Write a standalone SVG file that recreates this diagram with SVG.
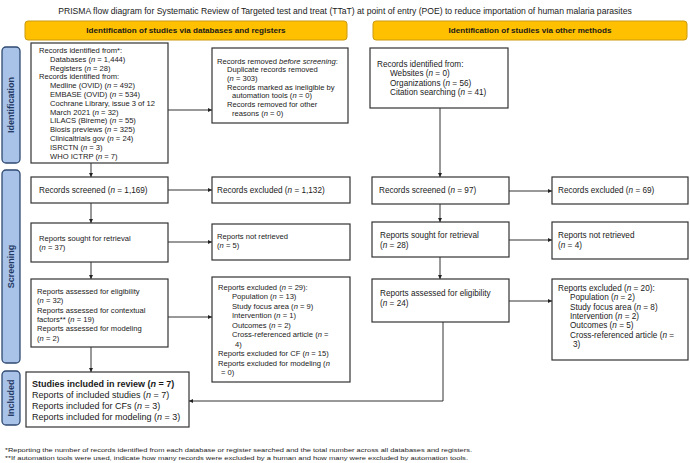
<svg xmlns="http://www.w3.org/2000/svg" width="690" height="463" viewBox="0 0 690 463">
<style>
text { font-family: "Liberation Sans", Arial, sans-serif; fill: #1a1a1a; }
.box { fill: #ffffff; stroke: #333333; stroke-width: 1.2; }
.hdr { fill: #ffc000; stroke: #c99a10; stroke-width: 1; }
.hdrt { font-size: 8.1px; font-weight: bold; text-anchor: middle; }
.side { fill: #a9c3e8; stroke: #2f4a72; stroke-width: 1.3; }
.sidet { font-size: 9px; font-weight: bold; fill: #1f3864; text-anchor: middle; }
.s { font-size: 7.6px; }
.m { font-size: 8.2px; }
.l { font-size: 9px; }
.i { font-style: italic; }
.fn { font-size: 6.2px; }
.c { stroke: #333333; stroke-width: 1; fill: none; marker-end: url(#ah); }
</style>
<defs>
<marker id="ah" viewBox="0 0 6 6" refX="6" refY="3" markerWidth="4" markerHeight="4" orient="auto" markerUnits="userSpaceOnUse">
<path d="M0,0 L6,3 L0,6 z" fill="#222222"/>
</marker>
</defs>
<rect width="690" height="463" fill="#ffffff"/>
<text id="title" x="345" y="13.5" font-size="8.6px" text-anchor="middle">PRISMA flow diagram for Systematic Review of Targeted test and treat (TTaT) at point of entry (POE) to reduce importation of human malaria parasites</text>

<g id="hdr-left"><rect class="hdr" x="25" y="21" width="322" height="19" rx="3"/><text class="hdrt" x="186" y="33.4">Identification of studies via databases and registers</text></g>
<g id="hdr-right"><rect class="hdr" x="373" y="21" width="314" height="19" rx="3"/><text class="hdrt" x="530" y="33.4">Identification of studies via other methods</text></g>

<g id="side-identification"><rect class="side" x="2" y="47" width="18" height="116" rx="4"/><text class="sidet" transform="translate(14.2,105) rotate(-90)">Identification</text></g>
<g id="side-screening"><rect class="side" x="2" y="170" width="18" height="193" rx="4"/><text class="sidet" transform="translate(14.2,266.5) rotate(-90)">Screening</text></g>
<g id="side-included"><rect class="side" x="2" y="371" width="18" height="54" rx="4"/><text class="sidet" transform="translate(14.2,398) rotate(-90)">Included</text></g>

<g id="db-identified">
<rect class="box" x="31" y="43" width="137" height="120"/>
<text class="s" x="39" y="52.8">Records identified from*:</text>
<text class="s" x="50" y="61.6">Databases (<tspan class="i">n</tspan> = 1,444)</text>
<text class="s" x="50" y="70.5">Registers (<tspan class="i">n</tspan> = 28)</text>
<text class="s" x="39" y="79.3">Records identified from:</text>
<text class="s" x="50" y="88.1">Medline (OVID) (<tspan class="i">n</tspan> = 492)</text>
<text class="s" x="50" y="97">EMBASE (OVID) (<tspan class="i">n</tspan> = 534)</text>
<text class="s" x="50" y="105.8">Cochrane Library, issue 3 of 12</text>
<text class="s" x="50" y="114.6">March 2021 (<tspan class="i">n</tspan> = 32)</text>
<text class="s" x="50" y="123.4">LILACS (Bireme) (<tspan class="i">n</tspan> = 55)</text>
<text class="s" x="50" y="132.3">Biosis previews (<tspan class="i">n</tspan> = 325)</text>
<text class="s" x="50" y="141.1">Clinicaltrials gov (<tspan class="i">n</tspan> = 24)</text>
<text class="s" x="50" y="149.9">ISRCTN (<tspan class="i">n</tspan> = 3)</text>
<text class="s" x="50" y="158.8">WHO ICTRP (<tspan class="i">n</tspan> = 7)</text>
</g>

<g id="db-removed">
<rect class="box" x="212" y="48" width="136" height="75"/>
<text class="s" x="217" y="63.5">Records removed <tspan class="i">before screening</tspan>:</text>
<text class="s" x="227" y="72.2">Duplicate records removed</text>
<text class="s" x="227" y="80.9">(<tspan class="i">n</tspan> = 303)</text>
<text class="s" x="227" y="89.6">Records marked as ineligible by</text>
<text class="s" x="232" y="98.3">automation tools (<tspan class="i">n</tspan> = 0)</text>
<text class="s" x="227" y="107">Records removed for other</text>
<text class="s" x="232" y="115.7">reasons (<tspan class="i">n</tspan> = 0)</text>
</g>

<g id="db-screened"><rect class="box" x="31" y="177" width="137" height="26"/><text class="m" x="39" y="193">Records screened (<tspan class="i">n</tspan> = 1,169)</text></g>
<g id="db-excluded"><rect class="box" x="212" y="177" width="138" height="26"/><text class="m" x="217" y="193">Records excluded (<tspan class="i">n</tspan> = 1,132)</text></g>

<g id="db-sought"><rect class="box" x="31" y="223" width="137" height="39"/>
<text class="s" x="39" y="240.5">Reports sought for retrieval</text>
<text class="s" x="39" y="250">(<tspan class="i">n</tspan> = 37)</text></g>
<g id="db-notretrieved"><rect class="box" x="212" y="224" width="138" height="36"/>
<text class="s" x="217" y="238.5">Reports not retrieved</text>
<text class="s" x="217" y="248">(<tspan class="i">n</tspan> = 5)</text></g>

<g id="db-assessed"><rect class="box" x="31" y="279" width="137" height="68"/>
<text class="s" x="37" y="293.7">Reports assessed for eligibility</text>
<text class="s" x="37" y="303.1">(<tspan class="i">n</tspan> = 32)</text>
<text class="s" x="37" y="312.5">Reports assessed for contextual</text>
<text class="s" x="37" y="321.9">factors** (<tspan class="i">n</tspan> = 19)</text>
<text class="s" x="37" y="331.3">Reports assessed for modeling</text>
<text class="s" x="37" y="340.7">(<tspan class="i">n</tspan> = 2)</text></g>

<g id="db-reportsexcluded"><rect class="box" x="212" y="277" width="138" height="105"/>
<text class="s" x="218" y="289.7">Reports excluded (<tspan class="i">n</tspan> = 29):</text>
<text class="s" x="232" y="299.2">Population (<tspan class="i">n</tspan> = 13)</text>
<text class="s" x="232" y="308.7">Study focus area (<tspan class="i">n</tspan> = 9)</text>
<text class="s" x="232" y="318.2">Intervention (<tspan class="i">n</tspan> = 1)</text>
<text class="s" x="232" y="327.7">Outcomes (<tspan class="i">n</tspan> = 2)</text>
<text class="s" x="232" y="337.2">Cross-referenced article (<tspan class="i">n</tspan> =</text>
<text class="s" x="235" y="346.7">4)</text>
<text class="s" x="218" y="356.2">Reports excluded for CF (<tspan class="i">n</tspan> = 15)</text>
<text class="s" x="218" y="365.7">Reports excluded for modeling (<tspan class="i">n</tspan></text>
<text class="s" x="221" y="375.2">= 0)</text></g>

<g id="included"><rect class="box" x="26" y="372" width="163" height="55"/>
<text class="l" x="32" y="387" font-weight="bold">Studies included in review (<tspan class="i">n</tspan> = 7)</text>
<text class="l" x="32" y="398">Reports of included studies (<tspan class="i">n</tspan> = 7)</text>
<text class="l" x="32" y="409">Reports included for CFs (<tspan class="i">n</tspan> = 3)</text>
<text class="l" x="32" y="420">Reports included for modeling (<tspan class="i">n</tspan> = 3)</text></g>

<g id="om-identified"><rect class="box" x="370" y="48" width="138" height="60"/>
<text class="m" x="377" y="66.8">Records identified from:</text>
<text class="m" x="390" y="76.3">Websites (<tspan class="i">n</tspan> = 0)</text>
<text class="m" x="390" y="85.8">Organizations (<tspan class="i">n</tspan> = 56)</text>
<text class="m" x="390" y="95.3">Citation searching (<tspan class="i">n</tspan> = 41)</text></g>

<g id="om-screened"><rect class="box" x="372" y="177" width="137" height="27"/><text class="m" x="379" y="193">Records screened (<tspan class="i">n</tspan> = 97)</text></g>
<g id="om-excluded"><rect class="box" x="552" y="177" width="136" height="27"/><text class="m" x="558" y="193">Records excluded (<tspan class="i">n</tspan> = 69)</text></g>

<g id="om-sought"><rect class="box" x="372" y="222" width="137" height="35"/>
<text class="m" x="380" y="238">Reports sought for retrieval</text>
<text class="m" x="380" y="247.5">(<tspan class="i">n</tspan> = 28)</text></g>
<g id="om-notretrieved"><rect class="box" x="552" y="222" width="136" height="37"/>
<text class="m" x="558" y="238">Reports not retrieved</text>
<text class="m" x="558" y="247.5">(<tspan class="i">n</tspan> = 4)</text></g>

<g id="om-assessed"><rect class="box" x="372" y="279" width="137" height="43"/>
<text class="m" x="380" y="296">Reports assessed for eligibility</text>
<text class="m" x="380" y="305.5">(<tspan class="i">n</tspan> = 24)</text></g>

<g id="om-reportsexcluded"><rect class="box" x="552" y="279" width="136" height="81"/>
<text class="m" x="558" y="290.7">Reports excluded (<tspan class="i">n</tspan> = 20):</text>
<text class="m" x="570" y="300.1">Population (<tspan class="i">n</tspan> = 2)</text>
<text class="m" x="570" y="309.5">Study focus area (<tspan class="i">n</tspan> = 8)</text>
<text class="m" x="570" y="318.9">Intervention (<tspan class="i">n</tspan> = 2)</text>
<text class="m" x="570" y="328.3">Outcomes (<tspan class="i">n</tspan> = 5)</text>
<text class="m" x="570" y="337.7">Cross-referenced article (<tspan class="i">n</tspan> =</text>
<text class="m" x="573" y="347.1">3)</text></g>

<g id="connectors">
<path class="c" d="M168,110 H212"/>
<path class="c" d="M91,163 V177"/>
<path class="c" d="M168,190 H212"/>
<path class="c" d="M91,203 V223"/>
<path class="c" d="M168,242 H212"/>
<path class="c" d="M91,262 V279"/>
<path class="c" d="M168,317 H212"/>
<path class="c" d="M91,347 V372"/>
<path class="c" d="M440,108 V177"/>
<path class="c" d="M509,191 H552"/>
<path class="c" d="M440,204 V222"/>
<path class="c" d="M509,240 H552"/>
<path class="c" d="M440,257 V279"/>
<path class="c" d="M509,301 H552"/>
<path class="c" d="M443,322 V401 H189"/>
</g>

<text id="fn1" class="fn" x="5" y="452" textLength="467" lengthAdjust="spacingAndGlyphs">*Reporting the number of records identified from each database or register searched and the total number across all databases and registers.</text>
<text id="fn2" class="fn" x="5" y="459.5" textLength="463" lengthAdjust="spacingAndGlyphs">**If automation tools were used, indicate how many records were excluded by a human and how many were excluded by automation tools.</text>
</svg>
